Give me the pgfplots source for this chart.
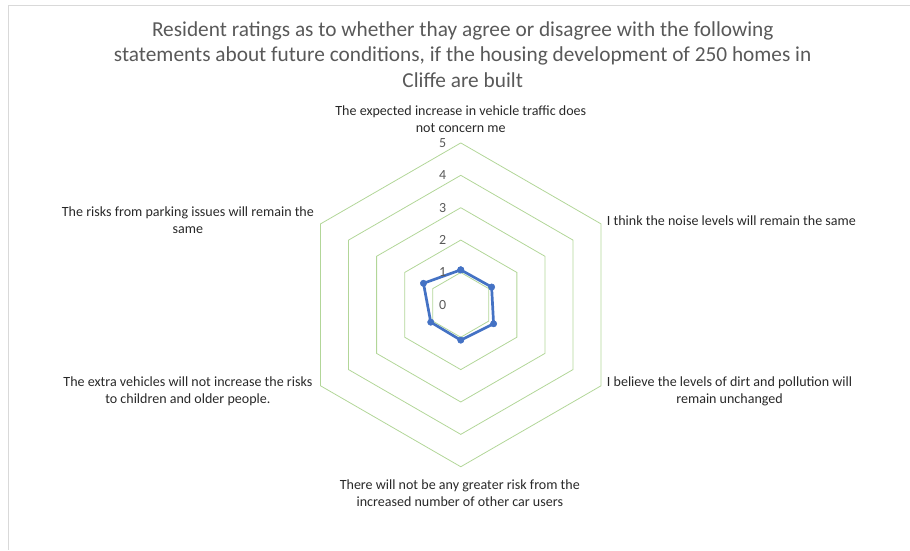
\documentclass[border=0pt]{standalone}
\usepackage{fontspec}
\setmainfont{Carlito}
\usepackage{pgfplots}
\pgfplotsset{compat=1.18}
\definecolor{gridgreen}{RGB}{178,214,152}
\definecolor{serblue}{RGB}{68,114,196}
\definecolor{titlegray}{RGB}{89,89,89}
\definecolor{labgray}{RGB}{40,40,40}
\definecolor{framegray}{RGB}{217,217,217}
\begin{document}
\begin{tikzpicture}
\begin{axis}[
  width=910bp, height=550bp, scale only axis,
  xmin=-14.228, xmax=13.858, ymin=-7.562, ymax=9.414,
  hide axis, clip=false,
  data cs=polar,
]
\path (rel axis cs:0,0) rectangle (rel axis cs:1,1);
% frame (top and left)
\draw[framegray, line width=0.9bp] (axis cs:-13.98,-7.562) -- (axis cs:-13.98,9.26) -- (axis cs:13.858,9.26);
% hexagonal grid
\pgfplotsinvokeforeach{1,2,3,4,5}{
  \addplot[gridgreen, line width=0.8bp, line join=miter, no marks, forget plot]
    coordinates {(90,#1) (30,#1) (-30,#1) (-90,#1) (-150,#1) (150,#1) (90,#1)};
}
% data series
\addplot[serblue, line width=2.7bp, line join=round, mark=*, mark size=3.2bp,
  mark options={fill=serblue, draw=serblue, line width=0.5bp}]
  coordinates {(90,1.08) (30,1.10) (-30,1.17) (-90,1.09) (-150,1.07) (150,1.33) (90,1.08)};
\end{axis}
\begin{axis}[
  width=910bp, height=550bp, scale only axis,
  xmin=-14.228, xmax=13.858, ymin=-7.562, ymax=9.414,
  hide axis, clip=false,
]
% radial tick labels
\pgfplotsinvokeforeach{0,1,2,3,4,5}{
  \node[text=titlegray, font=\fontsize{14}{16}\selectfont, anchor=center, inner sep=0pt] at (axis cs:-0.556,#1) {#1};
}
% title
\begin{scope}[every node/.style={text=titlegray, font=\fontsize{21.4}{25}\selectfont, anchor=base, inner sep=0pt}]
\node at (axis cs:0.06,8.287) {Resident ratings as to whether thay agree or disagree with the following};
\node at (axis cs:0.06,7.500) {statements about future conditions, if the housing development of 250 homes in};
\node at (axis cs:0.06,6.713) {Cliffe are built};
\end{scope}
% category labels
\begin{scope}[every node/.style={text=labgray, font=\fontsize{14.1}{16}\selectfont, anchor=base, inner sep=0pt}]
\node at (axis cs:0,5.835) {The expected increase in vehicle traffic does};
\node at (axis cs:0,5.310) {not concern me};
\node[anchor=base west] at (axis cs:4.506,2.44) {I think the noise levels will remain the same};
\node at (axis cs:8.30,-2.529) {I believe the levels of dirt and pollution will};
\node at (axis cs:8.30,-3.054) {remain unchanged};
\node at (axis cs:-0.03,-5.708) {There will not be any greater risk from the};
\node at (axis cs:-0.03,-6.233) {increased number of other car users};
\node at (axis cs:-8.426,-2.529) {The extra vehicles will not increase the risks};
\node at (axis cs:-8.426,-3.054) {to children and older people.};
\node at (axis cs:-8.426,2.718) {The risks from parking issues will remain the};
\node at (axis cs:-8.426,2.193) {same};
\end{scope}
\end{axis}
\end{tikzpicture}
\end{document}
